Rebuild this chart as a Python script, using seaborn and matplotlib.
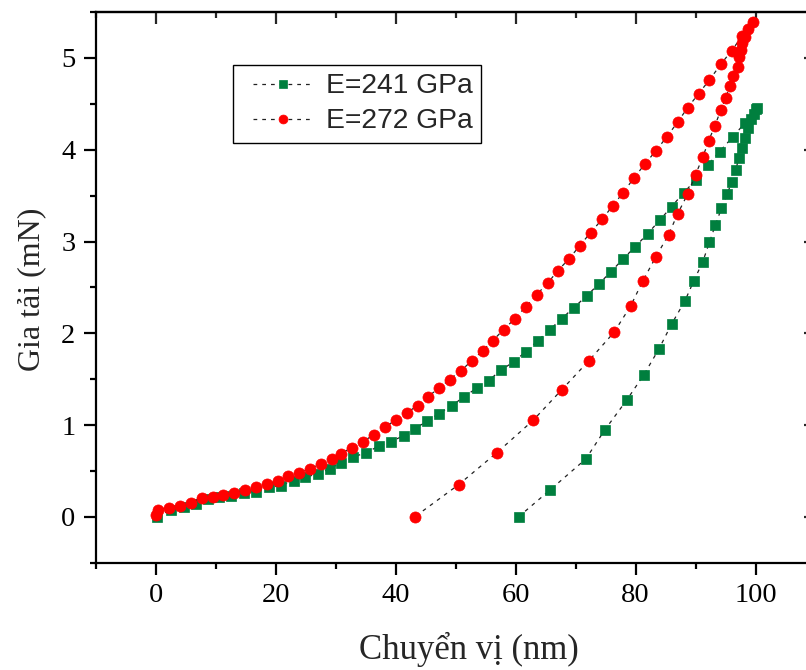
import matplotlib
matplotlib.use("Agg")
import matplotlib.pyplot as plt
import seaborn as sns
import pandas as pd
from matplotlib.ticker import MultipleLocator
from matplotlib.lines import Line2D
from matplotlib.legend_handler import HandlerLine2D

# Load-displacement data (loading branch followed by unloading branch)
disp_241 = [0.3, 2.6, 4.8, 6.7, 8.7, 10.6, 12.6, 14.7, 16.7, 18.9, 20.9, 23.1, 24.9,
            27.1, 29.1, 30.9, 32.9, 35.1, 37.2, 39.2, 41.4, 43.2, 45.2, 47.2, 49.4,
            51.4, 53.5, 55.5, 57.5, 59.7, 61.7, 63.7, 65.7, 67.7, 69.7, 71.9, 73.9,
            75.9, 77.9, 79.9, 82.0, 84.0, 86.0, 88.0, 90.0, 92.0, 94.0, 96.2, 98.2,
            100.2,
            100.0, 99.7, 99.2, 98.7, 98.3, 97.8, 97.2, 96.7, 96.0, 95.3, 94.3, 93.3,
            92.3, 91.2, 89.7, 88.2, 86.0, 83.9, 81.4, 78.5, 74.9, 71.7, 65.7, 60.5]
load_241 = [0.0, 0.08, 0.11, 0.145, 0.19, 0.22, 0.23, 0.265, 0.275, 0.32, 0.34, 0.395,
            0.43, 0.47, 0.525, 0.59, 0.65, 0.70, 0.77, 0.82, 0.885, 0.96, 1.04, 1.125,
            1.21, 1.31, 1.40, 1.485, 1.595, 1.69, 1.80, 1.92, 2.04, 2.16, 2.28, 2.41,
            2.54, 2.67, 2.81, 2.94, 3.085, 3.23, 3.38, 3.53, 3.67, 3.83, 3.98, 4.14,
            4.29, 4.46,
            4.44, 4.39, 4.33, 4.24, 4.13, 4.02, 3.91, 3.78, 3.65, 3.52, 3.36, 3.18,
            2.99, 2.78, 2.57, 2.35, 2.10, 1.83, 1.55, 1.27, 0.95, 0.63, 0.29, 0.0]

disp_272 = [0.1, 0.4, 2.3, 4.1, 5.9, 7.7, 9.6, 11.2, 13.1, 14.9, 16.7, 18.6, 20.4,
            22.1, 23.9, 25.7, 27.6, 29.4, 30.9, 32.7, 34.6, 36.4, 38.2, 40.1, 41.9,
            43.7, 45.4, 47.2, 49.0, 50.9, 52.7, 54.5, 56.2, 58.0, 59.9, 61.7, 63.5,
            65.4, 67.0, 68.9, 70.7, 72.5, 74.4, 76.2, 77.9, 79.7, 81.5, 83.4, 85.2,
            87.0, 88.7, 90.5, 92.3, 94.2, 96.0, 97.8, 99.5,
            98.8, 98.3, 97.8, 97.5, 97.2, 97.0, 96.3, 95.7, 95.0, 94.2, 93.2, 92.2,
            91.2, 90.0, 88.7, 87.0, 85.5, 83.4, 81.2, 79.2, 76.4, 72.2, 67.7, 62.9,
            56.9, 50.5, 43.2]
load_272 = [0.025, 0.08, 0.10, 0.12, 0.155, 0.21, 0.22, 0.24, 0.265, 0.29, 0.32, 0.36,
            0.395, 0.44, 0.48, 0.525, 0.58, 0.635, 0.69, 0.755, 0.82, 0.897, 0.975,
            1.06, 1.136, 1.213, 1.31, 1.40, 1.495, 1.593, 1.70, 1.81, 1.92, 2.04,
            2.16, 2.29, 2.42, 2.55, 2.68, 2.81, 2.955, 3.097, 3.24, 3.39, 3.53, 3.69,
            3.84, 3.99, 4.14, 4.30, 4.46, 4.61, 4.76, 4.93, 5.08, 5.24, 5.395,
            5.31, 5.23, 5.16, 5.09, 5.01, 4.90, 4.80, 4.69, 4.56, 4.43, 4.26, 4.10,
            3.92, 3.73, 3.52, 3.30, 3.075, 2.835, 2.57, 2.30, 2.01, 1.70, 1.385, 1.05,
            0.70, 0.35, 0.0]

series_labels = ["E=241 GPa", "E=272 GPa"]
x_label = "Chuyển vị (nm)"
y_label = "Gia tải (mN)"

sns.set_theme(style="white")
plt.rcParams["font.family"] = ["Liberation Serif", "DejaVu Serif"]

fig = plt.figure(figsize=(8.06, 6.70), dpi=100)
ax = fig.add_axes([0.1185, 0.1601, 0.8934, 0.8219])

df241 = pd.DataFrame({"d": disp_241, "p": load_241})
df272 = pd.DataFrame({"d": disp_272, "p": load_272})

green = "#007f3e"
red = "#ff0000"
line_kws = dict(color="#222222", linestyle=(0, (3, 4)), linewidth=0.9,
                sort=False, estimator=None, errorbar=None)

sns.lineplot(data=df241, x="d", y="p", ax=ax, marker="s",
             markersize=7, markerfacecolor=green, markeredgecolor=green,
             markeredgewidth=0.5, label=series_labels[0], **line_kws)
sns.lineplot(data=df272, x="d", y="p", ax=ax, marker="o",
             markersize=8, markerfacecolor=red, markeredgecolor=red,
             markeredgewidth=0.5, label=series_labels[1], **line_kws)

ax.set_xlim(-10, 110)
ax.set_ylim(-0.5, 5.5)
ax.xaxis.set_major_locator(MultipleLocator(20))
ax.xaxis.set_minor_locator(MultipleLocator(10))
ax.yaxis.set_major_locator(MultipleLocator(1))
ax.yaxis.set_minor_locator(MultipleLocator(0.5))

for s in ax.spines.values():
    s.set_visible(True)
    s.set_color("black")
    s.set_linewidth(1.6)

ax.tick_params(which="major", direction="out", length=8.5, width=1.6,
               colors="black", labelsize=20.5, pad=6,
               bottom=True, left=True, top=False, right=False)
ax.tick_params(which="minor", direction="out", length=4.5, width=1.6,
               colors="black", bottom=True, left=True, top=False, right=False)

# inward ticks on the top and right edges
top = ax.secondary_xaxis("top")
top.xaxis.set_major_locator(MultipleLocator(20))
top.xaxis.set_minor_locator(MultipleLocator(10))
top.tick_params(which="major", direction="in", length=8.5, width=1.6, labeltop=False)
top.tick_params(which="minor", direction="in", length=4.5, width=1.6)
top.spines["top"].set_linewidth(1.6)
right = ax.secondary_yaxis("right")
right.yaxis.set_major_locator(MultipleLocator(1))
right.yaxis.set_minor_locator(MultipleLocator(0.5))
right.tick_params(which="major", direction="in", length=8.5, width=1.6, labelright=False)
right.tick_params(which="minor", direction="in", length=4.5, width=1.6)
right.spines["right"].set_linewidth(1.6)

ax.set_xlabel(x_label, fontsize=25, va="center")
ax.set_ylabel(y_label, fontsize=23, va="center")
ax.xaxis.set_label_coords(0.519, -0.158)
ax.yaxis.set_label_coords(-0.088, 0.497)

leg = ax.legend(loc="upper left", bbox_to_anchor=(0.191, 0.904), borderaxespad=0,
                frameon=True, fancybox=False, edgecolor="black", framealpha=1,
                prop={"family": ["Liberation Sans", "DejaVu Sans"], "size": 20.3},
                handlelength=2.55, handletextpad=0.45, labelspacing=0.32,
                borderpad=0.3, numpoints=1, markerscale=0.8,
                handler_map={Line2D: HandlerLine2D(xpad=0.39)})
leg.get_frame().set_linewidth(1.0)

fig.savefig("out.png", dpi=100)
